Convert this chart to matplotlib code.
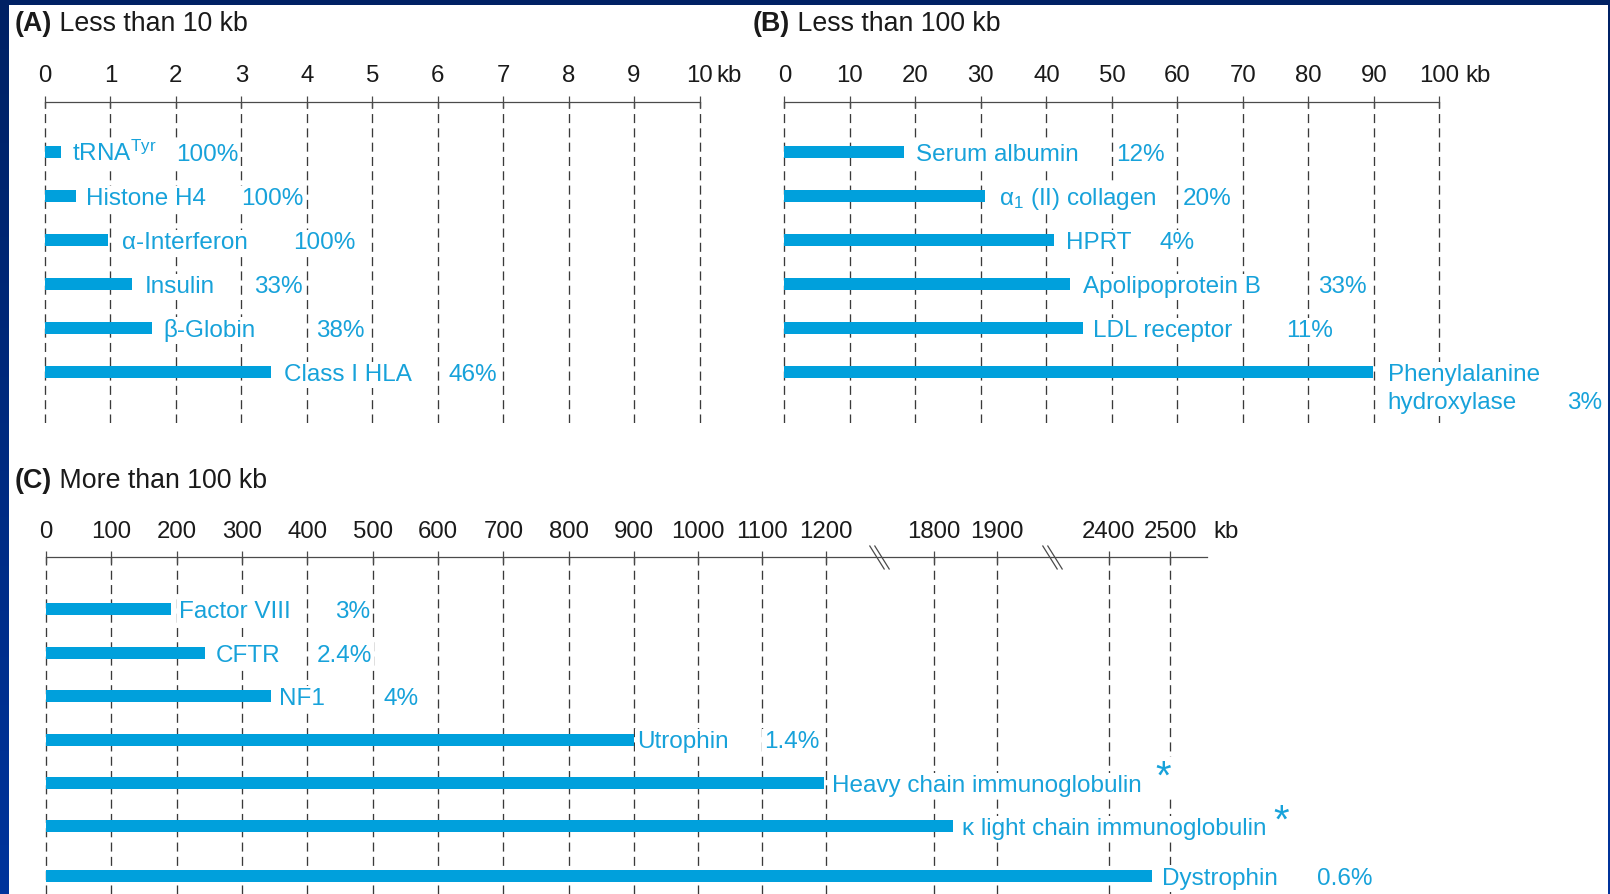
import numpy as np
import matplotlib
matplotlib.use('Agg')
import matplotlib.pyplot as plt
from matplotlib.path import Path
from matplotlib.patches import Rectangle
from matplotlib.ticker import NullLocator

plt.rcParams['font.family'] = ['Liberation Sans', 'DejaVu Sans']
plt.rcParams['mathtext.fontset'] = 'custom'
plt.rcParams['mathtext.rm'] = 'Liberation Sans'
plt.rcParams['mathtext.it'] = 'Liberation Sans:italic'
plt.rcParams['mathtext.bf'] = 'Liberation Sans:bold'
plt.rcParams['lines.scale_dashes'] = False

# (A) genes smaller than 10 kb
genes_a = [r'tRNA$^{\mathrm{Tyr}}$', 'Histone H4', 'α-Interferon', 'Insulin', 'β-Globin', 'Class I HLA']
size_a = [0.24, 0.47, 0.97, 1.33, 1.64, 3.46]
coding_a = ['100%', '100%', '100%', '33%', '38%', '46%']
ticks_a = list(range(0, 11))

# (B) genes smaller than 100 kb
genes_b = ['Serum albumin', r'α$_1$ (II) collagen', 'HPRT', 'Apolipoprotein B', 'LDL receptor',
           'Phenylalanine\nhydroxylase']
size_b = [18.3, 30.6, 41.1, 43.6, 45.6, 89.8]
coding_b = ['12%', '20%', '4%', '33%', '11%', '3%']
ticks_b = list(range(0, 101, 10))

# (C) genes larger than 100 kb ('*' = immunoglobulin loci)
genes_c = ['Factor VIII', 'CFTR', 'NF1', 'Utrophin', 'Heavy chain immunoglobulin',
           'κ light chain immunoglobulin', 'Dystrophin']
size_c = [191, 243, 345, 900, 1197, 1830, 2470]
coding_c = ['3%', '2.4%', '4%', '1.4%', '*', '*', '0.6%']
ticks_c = list(range(0, 1201, 100)) + [1800, 1900, 2400, 2500]

# ---- layout (pixels) ----
W, H = 1610, 894
bar_blue = '#00a0dc'
text_blue = '#17a2da'
ink = '#1a1a1a'
axis_grey = '#4a4a4a'
grid_grey = '#3a3a3a'
label_fs = 17.5
tick_fs = 17.3
title_fs = 19.3
line_gap = 28

name_dx_a = [11, 10, 14, 13, 11, 13]
pct_dx_a = [115, 165, 185, 122, 164, 177]
name_dx_b = [12, 14, 12, 13, 10, 15]
pct_dx_b = [212, 198, 106, 248, 203, 194]
pct_dy_b = [0, 0, 0, 0, 0, -line_gap]
name_dx_c = [8, 11, 8, 3, 8, 9, 10]
pct_dx_c = [164, 112, 112, 130, 331, 321, 165]
pct_dy_c = [0, 0, 0, 0, 3, 2, 0]
rows_c = [0, 1, 2, 3, 4, 5, 6.14]

fig = plt.figure(figsize=(W / 100, H / 100), dpi=100)


def px_box(left, top, right, bottom):
    return [left / W, 1 - bottom / H, (right - left) / W, (bottom - top) / H]


# navy frame with a soft vertical gradient and a white page on top
bg = fig.add_axes([0, 0, 1, 1], zorder=-10)
t = np.linspace(0, 1, 256)[:, None, None]
c_top = np.array([0x00, 0x21, 0x64]) / 255
c_bot = np.array([0x00, 0x34, 0x9c]) / 255
bg.imshow(c_top + t * (c_bot - c_top), aspect='auto', extent=(0, W, H, 0))
bg.add_patch(Rectangle((9, 5), 1599, 890, facecolor='white', edgecolor='none'))
bg.set_xlim(0, W)
bg.set_ylim(H, 0)
bg.axis('off')


def style_axis(ax, ticks, bound):
    ax.set_facecolor('none')
    for s in ('left', 'right', 'bottom'):
        ax.spines[s].set_visible(False)
    ax.spines['top'].set_bounds(*bound)
    ax.spines['top'].set_color(axis_grey)
    ax.spines['top'].set_linewidth(0.9)
    ax.xaxis.set_ticks_position('top')
    ax.set_xticks(ticks)
    ax.set_xticklabels([str(v) for v in ticks])
    ax.xaxis.set_minor_locator(NullLocator())
    ax.set_yticks([])
    ax.tick_params(axis='x', direction='inout', length=9, width=0.9, color=axis_grey,
                   pad=6, labelsize=tick_fs, labelcolor=ink)
    ax.grid(axis='x', color=grid_grey, lw=0.95, linestyle=(0, (6.5, 3.8)))
    ax.set_axisbelow(True)


# labels sit on a white patch so the dashed guides stop at the text
label_box = dict(facecolor='white', edgecolor='none', pad=1.5)


def draw_genes(ax, rows, sizes, names, coding, name_dx, pct_dx, pct_dy, bar_h):
    ax.barh(rows, sizes, height=bar_h, left=0, color=bar_blue, zorder=3)
    for r, v, name, pct, ndx, pdx, pdy in zip(rows, sizes, names, coding, name_dx, pct_dx, pct_dy):
        # multi-line names: matplotlib's baseline is the last line, keep the first on the bar
        ndy = -8.8 - line_gap * name.count('\n')
        ax.annotate(name, xy=(v, r), xytext=(ndx, ndy), textcoords='offset pixels',
                    ha='left', va='baseline', fontsize=label_fs, color=text_blue,
                    linespacing=1.35, bbox=label_box, zorder=4)
        size = 29 if pct == '*' else label_fs
        ax.annotate(pct, xy=(v, r), xytext=(pdx, -8.8 + pdy), textcoords='offset pixels',
                    ha='left', va='baseline', fontsize=size, color=text_blue,
                    bbox=label_box, zorder=4)


def kb_unit(ax, at, dx):
    ax.annotate('kb', xy=(at, 1), xycoords=('data', 'axes fraction'), xytext=(dx, 10.5),
                textcoords='offset points', ha='left', va='bottom', fontsize=tick_fs, color=ink)


def panel_title(x, y, letter, text):
    lead = bg.text(x, y, f'({letter})', fontsize=title_fs, fontweight='bold',
                   ha='left', va='baseline', color=ink)
    bg.annotate(' ' + text, xy=(1, 0), xycoords=lead, ha='left', va='bottom',
                fontsize=title_fs, color=ink)


# rows for panels A and B
row0, step = 152.4, 43.9
top_ab, bot_ab = 101.7, 423

# ---- panel A ----
ax_a = fig.add_axes(px_box(20, top_ab, 735, bot_ab))
scale_a = 65.45
ax_a.set_xlim((20 - 45) / scale_a, (735 - 45) / scale_a)
ax_a.set_ylim((bot_ab - row0) / step, (top_ab - row0) / step)
style_axis(ax_a, ticks_a, (0, 10))
draw_genes(ax_a, np.arange(len(genes_a)), size_a, genes_a, coding_a,
           name_dx_a, pct_dx_a, [0] * 6, 12 / step)
kb_unit(ax_a, 10, 12.5)

# ---- panel B ----
ax_b = fig.add_axes(px_box(745, top_ab, 1605, bot_ab))
scale_b = 6.55
ax_b.set_xlim((745 - 784.4) / scale_b, (1605 - 784.4) / scale_b)
ax_b.set_ylim((bot_ab - row0) / step, (top_ab - row0) / step)
style_axis(ax_b, ticks_b, (0, 100))
draw_genes(ax_b, np.arange(len(genes_b)), size_b, genes_b, coding_b,
           name_dx_b, pct_dx_b, pct_dy_b, 12 / step)
kb_unit(ax_b, 100, 19)

# ---- panel C (broken axis) ----
knot_kb = [-1000, 0, 900, 1200, 1800, 1900, 2400, 2500, 5000]
knot_px = [-604, 46, 634, 826, 933.7, 997, 1108.9, 1170, 2695]


def fwd(v):
    return np.interp(v, knot_kb, knot_px)


def inv(p):
    return np.interp(p, knot_px, knot_kb)


row0_c, step_c = 609.3, 43.4
top_c, bot_c = 557.3, 894
ax_c = fig.add_axes(px_box(20, top_c, 1605, bot_c))
ax_c.set_xscale('function', functions=(fwd, inv))
ax_c.set_xlim(inv(20), inv(1605))
ax_c.set_ylim((bot_c - row0_c) / step_c, (top_c - row0_c) / step_c)
style_axis(ax_c, ticks_c, (0, float(inv(1207))))
draw_genes(ax_c, rows_c, size_c, genes_c, coding_c,
           name_dx_c, pct_dx_c, pct_dy_c, 12 / step_c)
kb_unit(ax_c, 2500, 31)

brk = Path([(-10, 12), (5, -12), (-5, 12), (10, -12)],
           [Path.MOVETO, Path.LINETO, Path.MOVETO, Path.LINETO])
ax_c.plot([1493, 2146], [1, 1], transform=ax_c.get_xaxis_transform(), ls='none',
          marker=brk, ms=17.3, mfc='none', mec=axis_grey, mew=0.9, clip_on=False)

# ---- titles ----
panel_title(15, 31.2, 'A', 'Less than 10 kb')
panel_title(753, 31.2, 'B', 'Less than 100 kb')
panel_title(15, 487.7, 'C', 'More than 100 kb')

fig.savefig('out.png', dpi=100)
